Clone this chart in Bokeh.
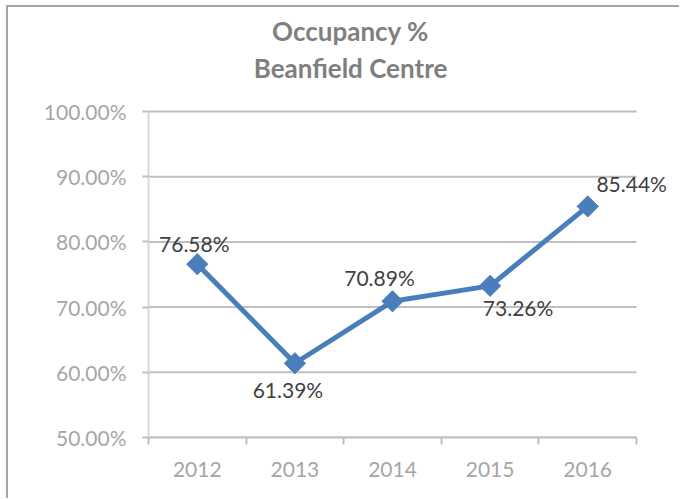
from bokeh.plotting import figure
from bokeh.models import ColumnDataSource, FixedTicker, LabelSet, Label, Range1d, InlineStyleSheet
from bokeh.core.properties import value
from bokeh.embed import file_html
from bokeh.resources import INLINE

years = ["2012", "2013", "2014", "2015", "2016"]
occupancy = [76.58, 61.39, 70.89, 73.26, 85.44]
y_ticks = [50, 60, 70, 80, 90, 100]
y_tick_labels = ["50.00%", "60.00%", "70.00%", "80.00%", "90.00%", "100.00%"]
title_lines = ["Occupancy %", "Beanfield Centre"]

# label placement offsets (px), styling only
label_dx = [-3, -7, -13, 28, 44]
label_dy = [21, -26, 24, -22, 23]

n = len(years)
xs = [i + 0.5 for i in range(n)]
src = ColumnDataSource(dict(
    x=xs, y=occupancy,
    txt=["%.2f%%" % v for v in occupancy],
    dx=label_dx, dy=label_dy,
))

# frame extends past the axes so that texts outside the value area are not clipped
PX_PER_UNIT_Y = 6.52
PX_PER_CAT = 97.6
frame_h = 430
frame_w = 533
y_lo = y_ticks[0]
y_hi = y_lo + frame_h / PX_PER_UNIT_Y

border_css = InlineStyleSheet(css=":host { margin-left: 6px; margin-top: 5px; "
                                  "border-left: 2px solid #a6a6a6; border-top: 2px solid #a6a6a6; }")

p = figure(width=673, height=493, output_backend="svg", toolbar_location=None,
           x_range=Range1d(0, frame_w / PX_PER_CAT), y_range=Range1d(y_lo, y_hi),
           min_border_left=140, min_border_right=0, min_border_top=0,
           min_border_bottom=63, stylesheets=[border_css])
p.outline_line_color = None
p.background_fill_color = "white"
p.border_fill_color = "white"

FONT = "Lato"

# gridlines limited to the value area
p.xgrid.grid_line_color = None
p.ygrid.grid_line_color = None
p.segment(x0=[0] * len(y_ticks), x1=[n] * len(y_ticks), y0=y_ticks, y1=y_ticks,
          line_color="#bfbfbf", line_width=2)

# x axis
p.xaxis.bounds = (0, n)
p.xaxis.ticker = FixedTicker(ticks=xs, minor_ticks=list(range(n + 1)))
p.xaxis.major_label_overrides = {x: y for x, y in zip(xs, years)}
p.xaxis.major_tick_out = 0
p.xaxis.major_tick_in = 0
p.xaxis.minor_tick_out = 7
p.xaxis.minor_tick_in = 0
p.xaxis.minor_tick_line_color = "#bfbfbf"
p.xaxis.minor_tick_line_width = 2
p.xaxis.axis_line_color = "#bfbfbf"
p.xaxis.axis_line_width = 2
p.xaxis.major_label_text_font = FONT
p.xaxis.major_label_text_font_size = "21px"
p.xaxis.major_label_text_color = "#a6a6a6"
p.xaxis.major_label_standoff = 17

# y axis
p.yaxis.bounds = (y_ticks[0], y_ticks[-1])
p.yaxis.ticker = FixedTicker(ticks=y_ticks, minor_ticks=[])
p.yaxis.major_label_overrides = {t: l for t, l in zip(y_ticks, y_tick_labels)}
p.yaxis.major_tick_out = 6
p.yaxis.major_tick_in = 0
p.yaxis.major_tick_line_color = "#bfbfbf"
p.yaxis.major_tick_line_width = 2
p.yaxis.axis_line_color = "#d9d9d9"
p.yaxis.axis_line_width = 2
p.yaxis.major_label_text_font = FONT
p.yaxis.major_label_text_font_size = "21px"
p.yaxis.major_label_text_color = "#a6a6a6"
p.yaxis.major_label_standoff = 16

p.line("x", "y", source=src, line_color="#4a7ebb", line_width=5)
p.scatter("x", "y", source=src, marker="square", angle=0.785398, size=15,
          fill_color="#4a7ebb", line_color="#4a7ebb")

labels = LabelSet(x="x", y="y", text="txt", source=src, x_offset="dx", y_offset="dy",
                  text_align="center", text_baseline="middle",
                  text_font=value(FONT), text_font_size="21px", text_color="#404040")
p.add_layout(labels)

title_y = [112.42, 106.6]
for t, ty in zip(title_lines, title_y):
    p.add_layout(Label(x=2.07, y=ty, text=t, text_align="center", text_baseline="middle",
                       text_font=FONT, text_font_size="26px", text_font_style="bold",
                       text_color="#7f7f7f"))

open("out.html", "w").write(file_html(p, INLINE))
